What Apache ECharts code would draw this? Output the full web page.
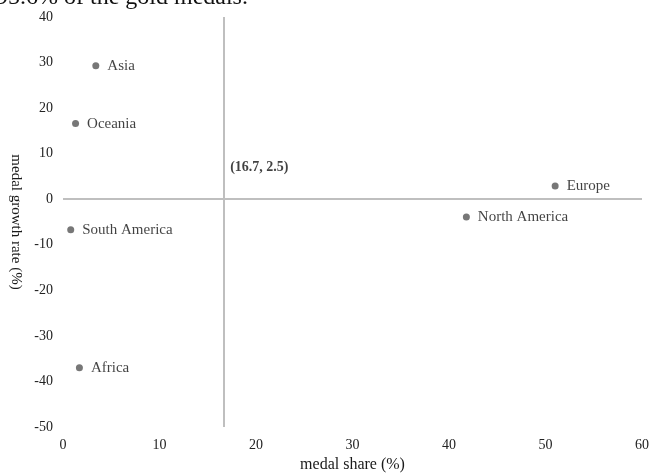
<!DOCTYPE html>
<html>
<head>
<meta charset="utf-8">
<script src="https://cdn.jsdelivr.net/npm/echarts@6/dist/echarts.min.js"></script>
<style>html,body{margin:0;padding:0;background:#fff}#c{width:649px;height:475px}</style>
</head>
<body>
<div id="c"></div>
<script>
const regions = ['Asia', 'Oceania', 'South America', 'Africa', 'Europe', 'North America'];
const medalShare = [3.4, 1.3, 0.8, 1.7, 51.0, 41.8];
const growthRate = [29.3, 16.6, -6.7, -37.0, 2.9, -3.9];
const meanPoint = [16.7, 2.5];
const crossX = 16.7;
const crossY = 0;
const xTicks = [0, 60, 10];
const yTicks = [-50, 40, 10];
const headline = '95.6% of the gold medals.';

const FONT = '"Liberation Serif", "Times New Roman", serif';
const chart = echarts.init(document.getElementById('c'), null, {renderer: 'canvas'});
chart.setOption({
  animation: false,
  backgroundColor: '#fff',
  textStyle: {fontFamily: FONT},
  graphic: [{
    type: 'text', left: -4, top: -14,
    style: {text: headline, font: '24px ' + FONT, fill: '#111'}
  }],
  grid: {left: 63, right: 7, top: 17, bottom: 48, outerBoundsMode: 'none', containLabel: false},
  xAxis: {
    type: 'value', min: xTicks[0], max: xTicks[1], interval: xTicks[2],
    name: 'medal share (%)', nameLocation: 'middle', nameGap: 27,
    nameTextStyle: {fontFamily: FONT, fontSize: 16, color: '#1a1a1a'},
    axisLine: {show: false}, axisTick: {show: false}, splitLine: {show: false},
    axisLabel: {fontFamily: FONT, fontSize: 14, color: '#222', margin: 11}
  },
  yAxis: {
    type: 'value', min: yTicks[0], max: yTicks[1], interval: yTicks[2],
    name: 'medal growth rate (%)', nameLocation: 'middle', nameGap: 40, nameRotate: -90,
    nameTextStyle: {fontFamily: FONT, fontSize: 15, color: '#1a1a1a'},
    axisLine: {show: false}, axisTick: {show: false}, splitLine: {show: false},
    axisLabel: {fontFamily: FONT, fontSize: 14, color: '#222', margin: 10}
  },
  series: [{
    type: 'scatter',
    symbolSize: 7,
    itemStyle: {color: '#555'},
    data: regions.map((r, i) => ({name: r, value: [medalShare[i], growthRate[i]]})),
    label: {
      show: true, position: 'right', distance: 8,
      formatter: p => p.name,
      fontFamily: FONT, fontSize: 15, color: '#111'
    },
    markLine: {
      silent: true, symbol: 'none',
      lineStyle: {color: '#bfbfbf', width: 2, type: 'solid'},
      label: {show: false},
      data: [{xAxis: crossX}, {yAxis: crossY}]
    },
    z: 3
  }, {
    type: 'scatter',
    symbolSize: 0,
    data: [meanPoint],
    label: {
      show: true, position: 'right', distance: 6, offset: [0, -20],
      formatter: () => '(' + meanPoint[0] + ', ' + meanPoint[1] + ')',
      fontFamily: FONT, fontSize: 14, fontWeight: 'bold', color: '#111'
    }
  }]
});
</script>
</body>
</html>
